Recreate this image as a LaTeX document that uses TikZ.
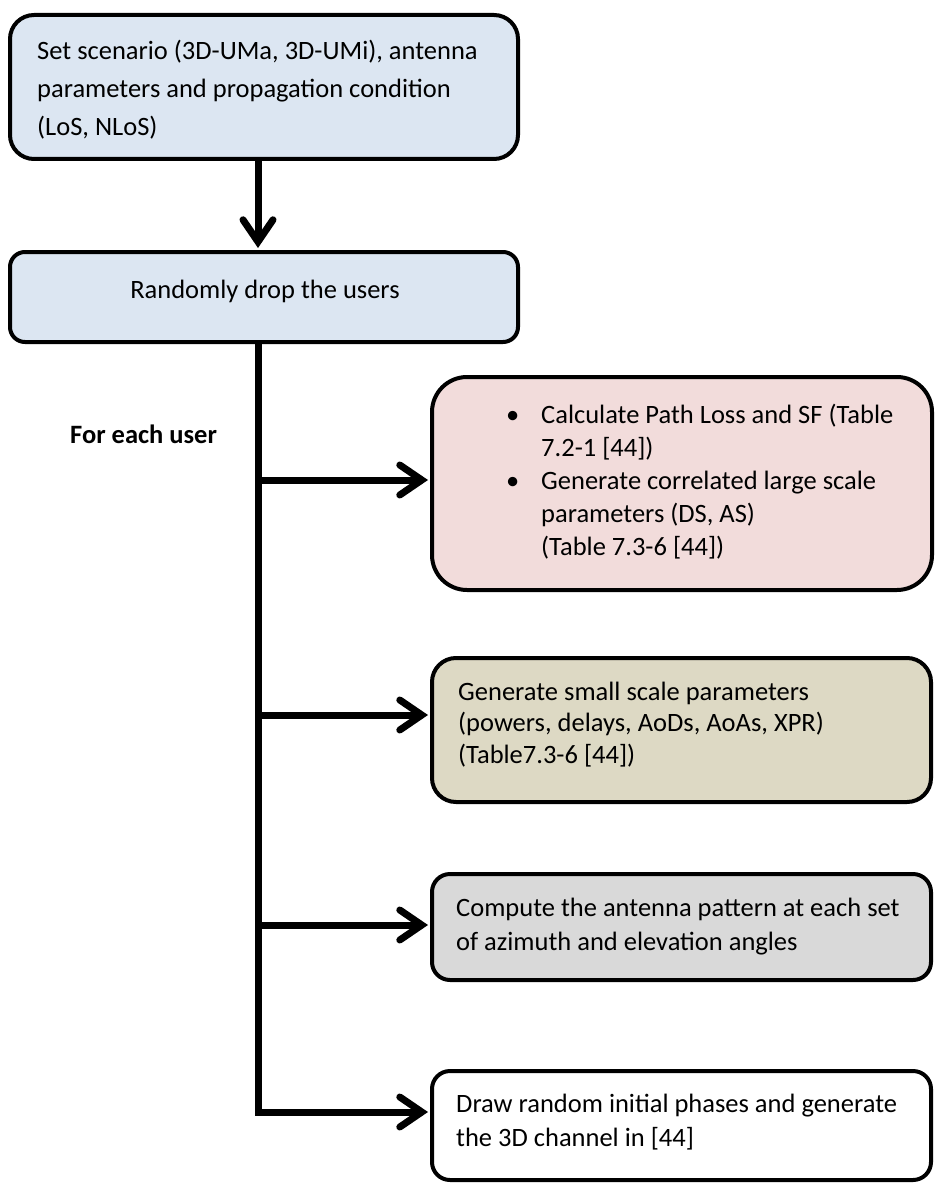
\documentclass[tikz,border=0pt]{standalone}
\usepackage{fontspec}
\setmainfont{Carlito}
\usetikzlibrary{arrows.meta}
\definecolor{bluebox}{HTML}{DCE6F2}
\definecolor{pinkbox}{HTML}{F2DCDB}
\definecolor{tanbox}{HTML}{DDD9C4}
\definecolor{graybox}{HTML}{D9D9D9}
\tikzset{
  stepbox/.style={draw=black, line width=4pt, inner sep=0pt},
  txt/.style={inner sep=0pt, align=left, font=\fontsize{26.5}{34}\selectfont},
  conn/.style={line width=7pt, line join=miter},
  arr/.style={conn, -{Straight Barb[length=22pt,width=30pt,line cap=round]}, shorten >=2pt},
}
\begin{document}
\begin{tikzpicture}[x=1pt,y=-1pt]
\useasboundingbox (0,0) rectangle (951,1201);
% boxes
\node[stepbox, fill=bluebox, rounded corners=24pt, minimum width=508pt, minimum height=144pt] (b1) at (264,87) {};
\node[stepbox, fill=bluebox, rounded corners=15pt, minimum width=508pt, minimum height=90pt] (b2) at (264,297) {};
\node[stepbox, fill=pinkbox, rounded corners=35pt, minimum width=500pt, minimum height=213pt] (b3) at (682,483.5) {};
\node[stepbox, fill=tanbox, rounded corners=24pt, minimum width=499pt, minimum height=144pt] (b4) at (681.5,730) {};
\node[stepbox, fill=graybox, rounded corners=18pt, minimum width=499pt, minimum height=106pt] (b5) at (681.5,927) {};
\node[stepbox, fill=white, rounded corners=18pt, minimum width=499pt, minimum height=109pt] (b6) at (681.5,1125.5) {};
% texts (anchored at the baseline of their last line)
\node[txt, font=\fontsize{26.5}{38.2}\selectfont, anchor=base west] (t1) at (37,136) {Set scenario (3D-UMa, 3D-UMi), antenna\\parameters and propagation condition\\(LoS, NLoS)};
\node[txt, anchor=base] (t2) at (265,298) {Randomly drop the users};
\node[txt, font=\fontsize{26.5}{33}\selectfont, anchor=base west] (t3) at (541,555) {\llap{\makebox[35pt][l]{•}}Calculate Path Loss and SF (Table\\7.2-1 [44])\\\llap{\makebox[35pt][l]{•}}Generate correlated large scale\\parameters (DS, AS)\\(Table 7.3-6 [44])};
\node[txt, font=\fontsize{26.5}{31.5}\selectfont, anchor=base west] (t4) at (458,763) {Generate small scale parameters\\(powers, delays, AoDs, AoAs, XPR)\\(Table7.3-6 [44])};
\node[txt, anchor=base west] (t5) at (456,950) {Compute the antenna pattern at each set\\of azimuth and elevation angles};
\node[txt, anchor=base west] (t6) at (456,1146) {Draw random initial phases and generate\\the 3D channel in [44]};
\node[txt, font=\fontsize{26.5}{34}\bfseries\selectfont, anchor=base west] (fe) at (70,443) {For each user};
% connectors
\coordinate (tr) at (258,0);
\coordinate (j3) at (258,480);
\coordinate (j4) at (258,715);
\coordinate (j5) at (258,925);
\coordinate (j6) at (258,1112);
\draw[arr] (b1.south -| tr) -- (b2.north -| tr);
\draw[arr] (b2.south -| tr) -- (j6) -- (b6.west |- j6);
\draw[arr] (j3) -- (b3.west |- j3);
\draw[arr] (j4) -- (b4.west |- j4);
\draw[arr] (j5) -- (b5.west |- j5);
\end{tikzpicture}
\end{document}
